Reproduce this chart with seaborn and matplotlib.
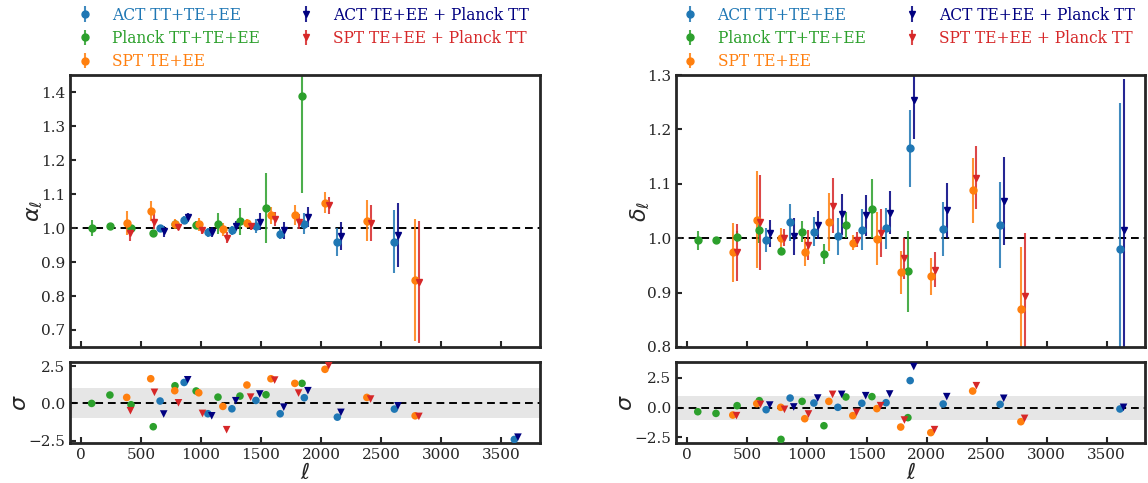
import numpy as np
import pandas as pd
import matplotlib
matplotlib.use("Agg")
import matplotlib.pyplot as plt
import seaborn as sns

# ---------------- data ----------------
labels = ["ACT TT+TE+EE", "Planck TT+TE+EE", "SPT TE+EE",
          "ACT TE+EE + Planck TT", "SPT TE+EE + Planck TT"]

ell_act = [660, 860, 1058, 1258, 1458, 1660, 1861, 2136, 2611, 3610]
ell_planck = [90, 242, 418, 603, 784, 960, 1142, 1325, 1542, 1842]
ell_spt = [382, 582, 782, 982, 1183, 1383, 1583, 1782, 2033, 2382, 2784]
ell_act_planck = [690, 890, 1090, 1290, 1490, 1690, 1891, 2166, 2641, 3640]
ell_spt_planck = [413, 613, 813, 1013, 1214, 1414, 1614, 1813, 2064, 2413, 2815]

# alpha_ell
alpha_act = [1.000, 1.024, 0.987, 0.993, 1.006, 0.983, 1.013, 0.960, 0.960, 0.26]
alpha_act_err = [0.010, 0.012, 0.012, 0.013, 0.022, 0.015, 0.032, 0.041, 0.092, 0.30]
alpha_planck = [1.000, 1.006, 0.999, 0.984, 1.012, 1.010, 1.013, 1.020, 1.059, 1.389]
alpha_planck_err = [0.023, 0.007, 0.011, 0.010, 0.010, 0.012, 0.032, 0.040, 0.102, 0.286]
alpha_spt = [1.015, 1.051, 1.011, 1.011, 0.996, 1.016, 1.037, 1.039, 1.075, 1.022, 0.847]
alpha_spt_err = [0.036, 0.029, 0.015, 0.019, 0.020, 0.012, 0.024, 0.029, 0.032, 0.060, 0.180]
alpha_act_planck = [0.990, 1.031, 0.988, 1.005, 1.018, 0.994, 1.032, 0.977, 0.980, 0.31]
alpha_act_planck_err = [0.015, 0.012, 0.015, 0.015, 0.025, 0.025, 0.030, 0.042, 0.094, 0.30]
alpha_spt_planck = [0.986, 1.018, 1.004, 0.993, 0.972, 1.005, 1.026, 1.018, 1.067, 1.015, 0.841]
alpha_spt_planck_err = [0.024, 0.022, 0.007, 0.010, 0.017, 0.010, 0.020, 0.022, 0.025, 0.053, 0.180]

# alpha_ell residuals in units of sigma
alpha_act_sig = [0.16, 1.40, -0.69, -0.36, 0.20, -0.69, 0.38, -0.92, -0.38, -2.41]
alpha_planck_sig = [0.00, 0.56, -0.09, -1.56, 1.18, 0.83, 0.42, 0.49, 0.58, 1.34]
alpha_spt_sig = [0.40, 1.65, 0.85, 0.71, -0.20, 1.23, 1.65, 1.34, 2.28, 0.40, -0.83]
alpha_act_planck_sig = [-0.71, 1.58, -0.83, 0.18, 0.63, -0.25, 0.85, -0.60, -0.16, -2.26]
alpha_spt_planck_sig = [-0.49, 0.74, 0.04, -0.67, -1.76, 0.42, 1.56, 0.69, 2.52, 0.29, -0.87]

# delta_ell
delta_act = [0.997, 1.029, 1.012, 1.004, 1.016, 1.018, 1.165, 1.017, 1.025, 0.980]
delta_act_err = [0.022, 0.034, 0.027, 0.034, 0.038, 0.038, 0.070, 0.049, 0.079, 0.268]
delta_planck = [0.996, 0.997, 1.003, 1.015, 0.977, 1.012, 0.971, 1.024, 1.054, 0.939]
delta_planck_err = [0.017, 0.006, 0.010, 0.023, 0.007, 0.019, 0.019, 0.024, 0.054, 0.075]
delta_spt = [0.974, 1.034, 1.001, 0.974, 1.030, 0.992, 0.999, 0.937, 0.930, 1.088, 0.870]
delta_spt_err = [0.054, 0.089, 0.018, 0.026, 0.053, 0.014, 0.049, 0.039, 0.034, 0.060, 0.114]
delta_act_planck = [1.009, 1.004, 1.024, 1.044, 1.042, 1.047, 1.255, 1.051, 1.069, 1.015]
delta_act_planck_err = [0.025, 0.034, 0.026, 0.038, 0.038, 0.039, 0.073, 0.050, 0.081, 0.277]
delta_spt_planck = [0.974, 1.029, 1.001, 0.988, 1.060, 0.997, 1.009, 0.963, 0.942, 1.111, 0.893]
delta_spt_planck_err = [0.053, 0.087, 0.016, 0.028, 0.051, 0.014, 0.044, 0.038, 0.032, 0.058, 0.116]

# delta_ell residuals in units of sigma
delta_act_sig = [-0.17, 0.81, 0.39, 0.03, 0.37, 0.42, 2.28, 0.31, 0.28, -0.11]
delta_planck_sig = [-0.34, -0.48, 0.17, 0.59, -2.67, 0.53, -1.52, 0.90, 0.93, -0.84]
delta_spt_sig = [-0.62, 0.34, 0.03, -0.93, 0.53, -0.67, -0.08, -1.63, -2.10, 1.40, -1.18]
delta_act_planck_sig = [0.22, 0.06, 0.81, 1.12, 1.01, 1.15, 3.46, 0.93, 0.79, 0.03]
delta_spt_planck_sig = [-0.67, 0.28, -0.14, -0.53, 1.12, -0.39, 0.17, -1.04, -1.85, 1.85, -0.90]

# ---------------- style ----------------
colors = ["#1f77b4", "#2ca02c", "#ff7f0e", "#000080", "#d62728"]
markers = ["o", "o", "o", "v", "v"]
ells = [ell_act, ell_planck, ell_spt, ell_act_planck, ell_spt_planck]

sns.set_theme(style="ticks")
plt.rcParams["font.family"] = ["DejaVu Serif"]
plt.rcParams["mathtext.fontset"] = "dejavusans"
plt.rcParams["axes.linewidth"] = 2.0
plt.rcParams["xtick.direction"] = "in"
plt.rcParams["ytick.direction"] = "in"
plt.rcParams["xtick.major.width"] = 1.5
plt.rcParams["ytick.major.width"] = 1.5
plt.rcParams["xtick.major.size"] = 4
plt.rcParams["ytick.major.size"] = 4

fig = plt.figure(figsize=(11.48, 4.83), dpi=100)
ax_a = fig.add_axes([0.061, 0.2816, 0.409, 0.563])
ax_as = fig.add_axes([0.061, 0.0834, 0.409, 0.1665], sharex=ax_a)
ax_d = fig.add_axes([0.589, 0.2816, 0.4085, 0.563])
ax_ds = fig.add_axes([0.589, 0.0834, 0.4085, 0.1665], sharex=ax_d)


def draw_top(ax, vals, errs):
    for ell, v, e, c, m, lab in zip(ells, vals, errs, colors, markers, labels):
        ax.errorbar(ell, v, yerr=e, fmt=m, color=c, ms=5, elinewidth=1.5,
                    ecolor=matplotlib.colors.to_rgba(c, 0.85), capsize=0,
                    label=lab)
    ax.axhline(1.0, color="black", ls="--", lw=1.4, dashes=(4, 2.5), zorder=0)
    leg = ax.legend(loc="lower center", bbox_to_anchor=(0.488, 0.99), ncol=2,
                    frameon=False, fontsize=11.2, labelspacing=0.4,
                    borderaxespad=0.1, handletextpad=0.75, columnspacing=2.0)
    for txt, c in zip(leg.get_texts(), colors):
        txt.set_color(c)
    ax.tick_params(labelbottom=False, labelsize=11)


def draw_resid(ax, sigs):
    frames = []
    for ell, s, lab in zip(ells, sigs, labels):
        frames.append(pd.DataFrame({"ell": ell, "sigma": s, "data": lab}))
    df = pd.concat(frames, ignore_index=True)
    ax.axhspan(-1, 1, color="0.9", lw=0, zorder=0)
    ax.axhline(0.0, color="black", ls="--", lw=1.4, dashes=(4, 2.5), zorder=1)
    sns.scatterplot(data=df, x="ell", y="sigma", hue="data", style="data",
                    palette=dict(zip(labels, colors)),
                    markers=dict(zip(labels, markers)),
                    s=30, linewidth=0, legend=False, ax=ax, zorder=3)
    ax.set_yticks([-2.5, 0.0, 2.5])
    ax.set_xticks(np.arange(0, 3501, 500))
    ax.set_ylabel(r"$\sigma$", fontsize=16, labelpad=-2)
    ax.set_xlabel(r"$\ell$", fontsize=16, labelpad=0)
    ax.tick_params(labelsize=11)


draw_top(ax_a, [alpha_act, alpha_planck, alpha_spt, alpha_act_planck, alpha_spt_planck],
         [alpha_act_err, alpha_planck_err, alpha_spt_err, alpha_act_planck_err, alpha_spt_planck_err])
draw_top(ax_d, [delta_act, delta_planck, delta_spt, delta_act_planck, delta_spt_planck],
         [delta_act_err, delta_planck_err, delta_spt_err, delta_act_planck_err, delta_spt_planck_err])

ax_a.set_ylim(0.65, 1.45)
ax_a.set_yticks(np.arange(0.7, 1.41, 0.1))
ax_a.set_ylabel(r"$\alpha_\ell$", fontsize=16, labelpad=-2)
ax_d.set_ylim(0.8, 1.3)
ax_d.set_yticks(np.arange(0.8, 1.31, 0.1))
ax_d.set_ylabel(r"$\delta_\ell$", fontsize=16, labelpad=-3)

draw_resid(ax_as, [alpha_act_sig, alpha_planck_sig, alpha_spt_sig,
                   alpha_act_planck_sig, alpha_spt_planck_sig])
draw_resid(ax_ds, [delta_act_sig, delta_planck_sig, delta_spt_sig,
                   delta_act_planck_sig, delta_spt_planck_sig])
ax_as.set_ylim(-2.63, 2.75)
ax_ds.set_ylim(-2.95, 3.82)

for ax in (ax_a, ax_d):
    ax.set_xlim(-90, 3820)

fig.savefig("out.png", dpi=100)
